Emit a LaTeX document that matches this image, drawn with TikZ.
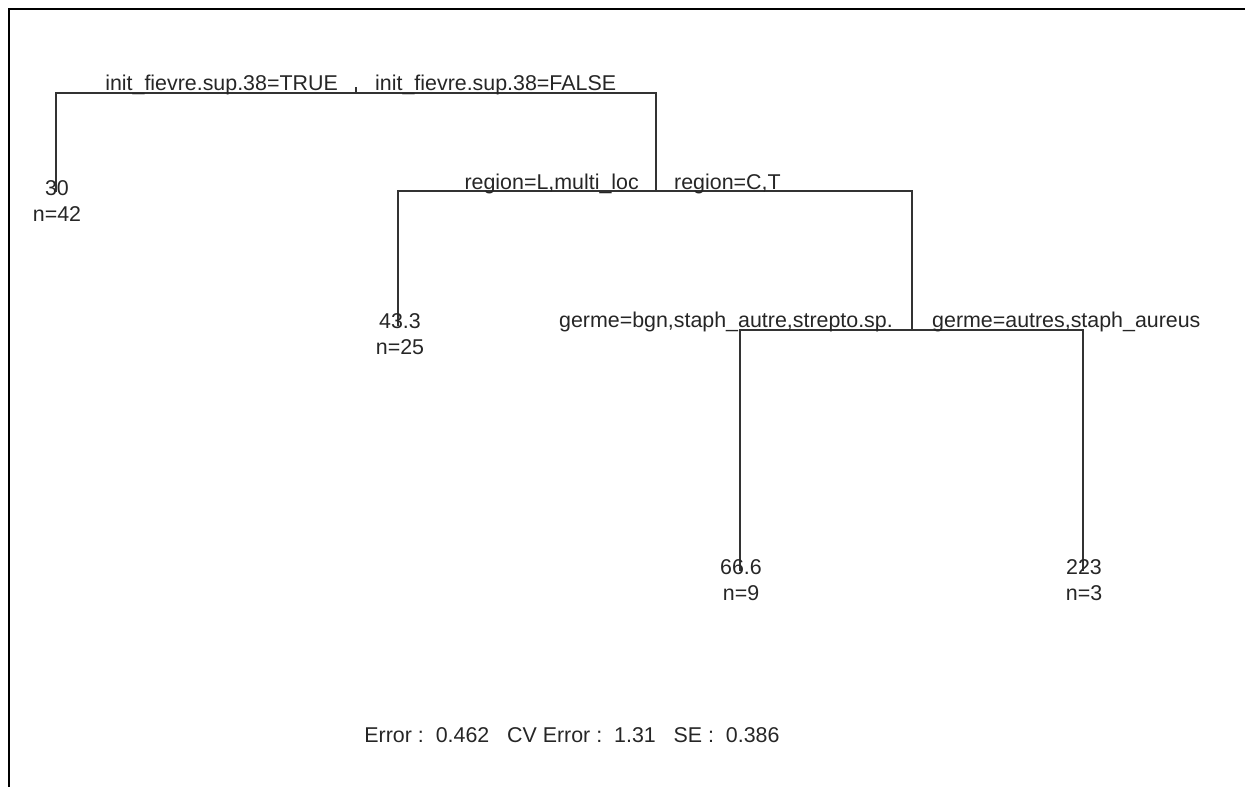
\documentclass[tikz,border=0pt]{standalone}
\usepackage{fontspec}
\setmainfont{Liberation Sans}
\begin{document}
\begin{tikzpicture}[x=1pt, y=-1pt,
    branch/.style = {draw=black!80, line width=1.3pt},
    lbl/.style = {inner sep=0pt, font=\fontsize{21.4}{24}\selectfont, text=black!85},
    leaf/.style = {lbl, anchor=base}]
    \useasboundingbox (0,0) rectangle (1245,787);
    \draw[line width=2pt] (9,787) -- (9,9) -- (1245,9);

    % split points and leaf ends
    \coordinate (root) at (356,93);
    \coordinate (s2) at (656,191);
    \coordinate (s3) at (912,330);
    \coordinate (a30) at (56,192);
    \coordinate (a43) at (398,326);
    \coordinate (a66) at (740,571);
    \coordinate (a223) at (1083,571);

    \draw[branch] (a30) |- (root) -| (s2);
    \draw[branch] (a43) |- (s2) -| (s3);
    \draw[branch] (a66) |- (s3) -| (a223);
    \draw[branch] (root) -- ++(0,-6);

    \node[lbl, anchor=base east] (t1) at (338,90) {init\_fievre.sup.38=TRUE};
    \node[lbl, anchor=base west] (f1) at (375,90) {init\_fievre.sup.38=FALSE};
    \node[lbl, anchor=base east] (t2) at (639,189) {region=L,multi\_loc};
    \node[lbl, anchor=base west] (f2) at (674,189) {region=C,T};
    \node[lbl, anchor=base east] (t3) at (893,327) {germe=bgn,staph\_autre,strepto.sp.};
    \node[lbl, anchor=base west] (f3) at (932,327) {germe=autres,staph\_aureus};

    \node[leaf] (v30) at (57,195) {30};
    \node[leaf] (n30) at (57,221) {n=42};
    \node[leaf] (v43) at (400,328) {43.3};
    \node[leaf] (n43) at (400,354) {n=25};
    \node[leaf] (v66) at (741,574) {66.6};
    \node[leaf] (n66) at (741,600) {n=9};
    \node[leaf] (v223) at (1084,574) {223};
    \node[leaf] (n223) at (1084,600) {n=3};

    \node[leaf] (err) at (572,742) {Error :\ \ 0.462\ \ \ CV Error :\ \ 1.31\ \ \ SE :\ \ 0.386};
\end{tikzpicture}
\end{document}
